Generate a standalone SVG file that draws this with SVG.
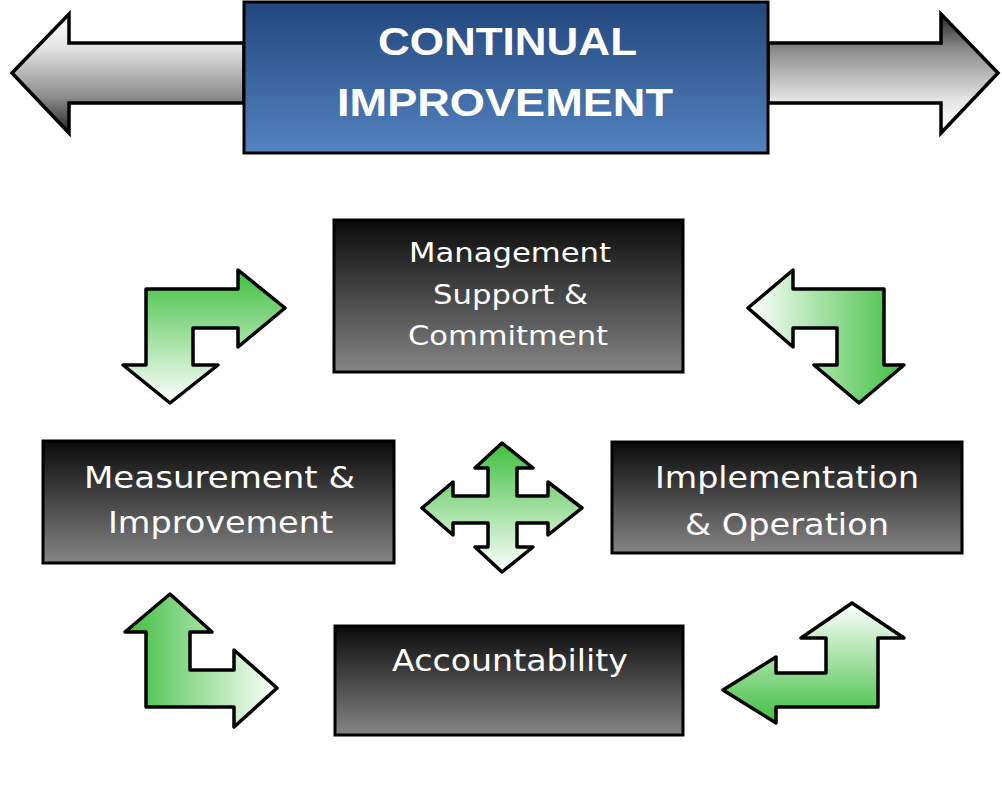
<svg xmlns="http://www.w3.org/2000/svg" width="1002" height="791" viewBox="0 0 1002 791">
<defs>
<linearGradient id="blueG" x1="0" y1="0" x2="0" y2="1">
<stop offset="0" stop-color="#22467d"/>
<stop offset="1" stop-color="#5383c0"/>
</linearGradient>
<linearGradient id="darkG" x1="0" y1="0" x2="0" y2="1">
<stop offset="0" stop-color="#0a0a0a"/>
<stop offset="1" stop-color="#858585"/>
</linearGradient>
<linearGradient id="grayL" gradientUnits="userSpaceOnUse" x1="0" y1="14" x2="0" y2="133">
<stop offset="0" stop-color="#ffffff"/>
<stop offset="0.28" stop-color="#e4e4e4"/>
<stop offset="0.7" stop-color="#8c8c8c"/>
<stop offset="1" stop-color="#262626"/>
</linearGradient>
<linearGradient id="grayR" gradientUnits="userSpaceOnUse" x1="0" y1="133" x2="0" y2="14">
<stop offset="0" stop-color="#ffffff"/>
<stop offset="0.28" stop-color="#e4e4e4"/>
<stop offset="0.7" stop-color="#8c8c8c"/>
<stop offset="1" stop-color="#262626"/>
</linearGradient>
<linearGradient id="gDown" x1="0" y1="0" x2="0" y2="1">
<stop offset="0" stop-color="#3ebf3e"/>
<stop offset="1" stop-color="#ffffff"/>
</linearGradient>
<linearGradient id="gUp" x1="0" y1="1" x2="0" y2="0">
<stop offset="0" stop-color="#3ebf3e"/>
<stop offset="1" stop-color="#ffffff"/>
</linearGradient>
<linearGradient id="gGreenRight" x1="1" y1="0" x2="0" y2="0">
<stop offset="0" stop-color="#3ebf3e"/>
<stop offset="1" stop-color="#ffffff"/>
</linearGradient>
<linearGradient id="gGreenLeft" x1="0" y1="0" x2="1" y2="0">
<stop offset="0" stop-color="#3ebf3e"/>
<stop offset="1" stop-color="#ffffff"/>
</linearGradient>
</defs>
<style>
.box{fill:url(#darkG);stroke:#000;stroke-width:3}
.lbl{font-family:"DejaVu Sans","Verdana",sans-serif;fill:#fff;font-size:30px}
.sm{font-size:26px}
.ttl{font-family:"Liberation Sans","Arial",sans-serif;font-weight:bold;fill:#fff;font-size:39px}
.arr{stroke:#000;stroke-width:3.5;stroke-linejoin:round}
.big{stroke:#000;stroke-width:3.5;stroke-linejoin:miter}
</style>
<rect width="1002" height="791" fill="#fff"/>
<g id="connectors">
<path class="big" fill="url(#grayL)" d="M12,73 L69,14 L69,43 L244,43 L244,103 L69,103 L69,133 Z"/>
<path class="big" fill="url(#grayR)" d="M998,73 L941,14 L941,43 L768,43 L768,103 L941,103 L941,133 Z"/>
<path class="arr" fill="url(#gDown)" d="M146,289 L238,289 L238,270 L285,308 L238,347 L238,328 L193,328 L193,365 L218,365 L170,403 L123,365 L146,365 Z"/>
<path class="arr" fill="url(#gGreenRight)" d="M748,308 L793,270 L793,289 L884,289 L884,365 L904,365 L859,403 L814,365 L837,365 L837,328 L793,328 L793,347 Z"/>
<path class="arr" fill="url(#gGreenLeft)" d="M170,594 L212,632 L190,632 L190,670 L234,670 L234,650 L277,688 L234,727 L234,707 L146,707 L146,632 L125,632 Z"/>
<path class="arr" fill="url(#gUp)" d="M852,603 L904,638 L878,638 L878,707 L776,707 L776,723 L723,690 L776,657 L776,673 L826,673 L826,638 L801,638 Z"/>
<path class="arr" fill="url(#gDown)" d="M502,443 L533,468 L517,468 L517,496 L548,496 L548,482 L582,508 L548,535 L548,523 L517,523 L517,547 L533,547 L502,572 L475,547 L488,547 L488,523 L453,523 L453,535 L422,508 L453,482 L453,496 L488,496 L488,468 L475,468 Z"/>
</g>
<g id="title">
<rect x="244" y="2" width="524" height="151" fill="url(#blueG)" stroke="#000" stroke-width="3"/>
<text class="ttl" x="378" y="55" textLength="259" lengthAdjust="spacingAndGlyphs">CONTINUAL</text>
<text class="ttl" x="337" y="116" textLength="336" lengthAdjust="spacingAndGlyphs">IMPROVEMENT</text>
</g>
<g id="management">
<rect class="box" x="334" y="220" width="349" height="152"/>
<text class="lbl sm" x="409" y="262" textLength="202" lengthAdjust="spacingAndGlyphs">Management</text>
<text class="lbl sm" x="433" y="304" textLength="155" lengthAdjust="spacingAndGlyphs">Support &amp;</text>
<text class="lbl sm" x="408" y="345" textLength="200" lengthAdjust="spacingAndGlyphs">Commitment</text>
</g>
<g id="measurement">
<rect class="box" x="43" y="441" width="351" height="122"/>
<text class="lbl" x="84" y="488" textLength="271" lengthAdjust="spacingAndGlyphs">Measurement &amp;</text>
<text class="lbl" x="108" y="533" textLength="225" lengthAdjust="spacingAndGlyphs">Improvement</text>
</g>
<g id="implementation">
<rect class="box" x="612" y="442" width="350" height="111"/>
<text class="lbl" x="655" y="488" textLength="264" lengthAdjust="spacingAndGlyphs">Implementation</text>
<text class="lbl" x="685" y="535" textLength="204" lengthAdjust="spacingAndGlyphs">&amp; Operation</text>
</g>
<g id="accountability">
<rect class="box" x="335" y="626" width="348" height="109"/>
<text class="lbl" x="392" y="671" textLength="236" lengthAdjust="spacingAndGlyphs">Accountability</text>
</g>
</svg>
